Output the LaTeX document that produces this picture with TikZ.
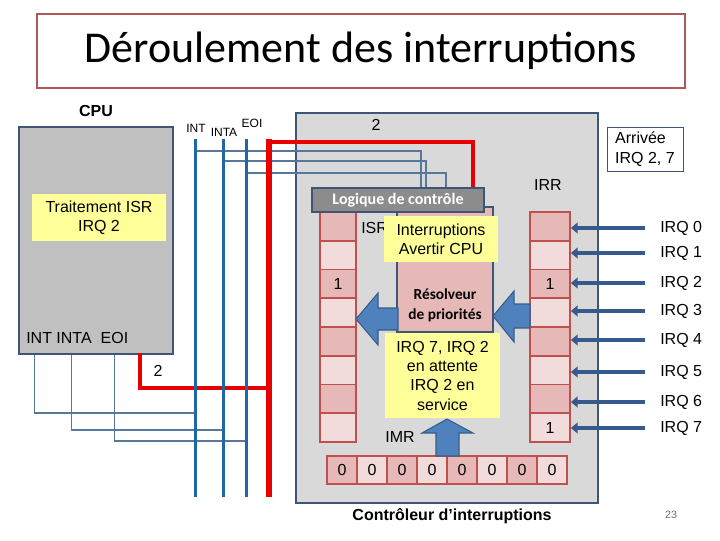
\documentclass[tikz,border=0pt]{standalone}
\usepackage{fontspec}
\setmainfont{Liberation Sans}
\newfontfamily\calibri{Carlito}
\usetikzlibrary{arrows.meta}
\definecolor{framered}{RGB}{176,88,88}
\definecolor{boxblue}{RGB}{63,85,119}
\definecolor{cpugray}{RGB}{192,192,192}
\definecolor{ctrlgray}{RGB}{217,217,217}
\definecolor{logicgray}{RGB}{140,140,140}
\definecolor{cellred}{RGB}{192,80,77}
\definecolor{celldark}{RGB}{230,185,184}
\definecolor{celllight}{RGB}{242,220,219}
\definecolor{noteyellow}{RGB}{255,255,153}
\definecolor{busblue}{RGB}{30,105,165}
\definecolor{wireblue}{RGB}{85,120,155}
\definecolor{wirered}{RGB}{232,0,0}
\definecolor{bigarrow}{RGB}{79,129,189}
\definecolor{bigarrowedge}{RGB}{56,93,138}
\definecolor{irqblue}{RGB}{55,90,140}
\definecolor{pagegray}{RGB}{110,110,110}
\begin{document}
\begin{tikzpicture}[x=0.75pt,y=-0.75pt,
  txt/.style={font=\fontsize{12}{14.5}\selectfont, inner sep=0pt},
  smalltxt/.style={font=\fontsize{9}{11}\selectfont, inner sep=0pt},
  unit/.style={draw=boxblue, line width=1.9pt, inner sep=0pt},
  note/.style={fill=noteyellow, inner sep=0pt, align=center, font=\fontsize{12}{14.5}\selectfont},
  cell/.style={draw=cellred, line width=1.3pt, inner sep=0pt, font=\fontsize{12}{14.5}\selectfont},
  bus/.style={draw=busblue, line width=2.25pt},
  wire/.style={draw=wireblue, line width=0.9pt},
  redbus/.style={draw=wirered, line width=4.5pt},
  redwire/.style={draw=wirered, line width=3pt, line join=miter},
  irqarr/.style={draw=irqblue, line width=3.6pt, -{Triangle[length=5pt,width=8pt]}},
  blockarrow/.style={fill=bigarrow, draw=bigarrowedge, line width=0.8pt, line join=miter}
]
\useasboundingbox (0,0) rectangle (720,540);

% title
\node[draw=framered, line width=2pt, minimum width=486pt, minimum height=55.5pt, inner sep=0pt,
      font=\calibri\fontsize{33}{38}\selectfont] (title) at (361,51) {Déroulement des interruptions};

% CPU
\node[txt, font=\bfseries\fontsize{12}{14.5}\selectfont] (cpulab) at (96,111) {CPU};
\node[unit, fill=cpugray, minimum width=115.5pt, minimum height=170.25pt] (cpu) at (96,240.5) {};
\node[note, minimum width=100.5pt, minimum height=35.25pt] (isrnote) at (99,217.5) {Traitement ISR\\IRQ 2};
\node[txt, anchor=west] (cpupins) at (26,338) {INT INTA\ \ EOI};

% controller
\node[unit, fill=ctrlgray, minimum width=226.5pt, minimum height=292.5pt] (ctrl) at (447,308) {};

% bus labels
\node[smalltxt] (intlab) at (196,128) {INT};
\node[smalltxt] (intalab) at (224,132) {INTA};
\node[smalltxt] (eoilab) at (252,123) {EOI};

% bus coordinates
\coordinate (intT) at (195,139);   \coordinate (intB) at (195,497);
\coordinate (intaT) at (223,139);  \coordinate (intaB) at (223,497);
\coordinate (eoiT) at (246,139);   \coordinate (eoiB) at (246,497);
\coordinate (redT) at (269,139);   \coordinate (redB) at (269,497);
\coordinate (intTap) at (195,151); \coordinate (intaTap) at (223,161); \coordinate (eoiTap) at (246,173);
\coordinate (redTap) at (269,142);
\coordinate (intL) at (195,413);   \coordinate (intaL) at (223,430); \coordinate (eoiL) at (246,441);
\coordinate (redL) at (269,388);

% logic box position (drawn later on top)
\path (398,200) node[minimum width=129pt, minimum height=18pt, inner sep=0pt] (logicpos) {};

% lower wires from CPU
\draw[wire] ([xshift=12.75pt]cpu.south west) |- (intL);
\draw[wire] ([xshift=40.5pt]cpu.south west) |- (intaL);
\draw[wire] ([xshift=72.75pt]cpu.south west) |- (eoiL);
\draw[redwire] ([xshift=91.5pt,yshift=1.5pt]cpu.south west) |- (redL);
\node[txt] (two1) at (158,371) {2};

% upper wires to logic
\draw[wire] (intTap) -| ([xshift=17.25pt]logicpos.north);
\draw[wire] (intaTap) -| ([xshift=21pt]logicpos.north);
\draw[wire] (eoiTap) -| ([xshift=36pt]logicpos.north);
\draw[redwire] (redTap) -| ([xshift=56.25pt]logicpos.north);
\node[txt] (two2) at (376,125) {2};

% buses
\draw[bus] (intT) -- (intB);
\draw[bus] (intaT) -- (intaB);
\draw[bus] (eoiT) -- (eoiB);
\draw[redbus] (redT) -- (redB);

% labels in controller
\node[txt] (irrlab) at (548,185) {IRR};
\node[txt, anchor=west] (isrlab) at (361,228) {ISR};
\node[txt] (imrlab) at (400,437) {IMR};

% arrival box
\node[draw=boxblue, fill=white, line width=0.75pt, minimum width=57pt, minimum height=33pt,
      align=left, font=\fontsize{12}{14.5}\selectfont, inner sep=2pt] (arrivee) at (645,149) {Arrivée\\IRQ 2, 7};

% resolver
\node[unit, fill=celldark, minimum width=72pt, minimum height=93.75pt] (resolver) at (445,269.5) {};
\node[font=\calibri\bfseries\fontsize{11.5}{15}\selectfont, align=center, inner sep=0pt] (reslab) at (445,305) {Résolveur\\de priorités};

% ISR column
\foreach \i/\c/\t in {0/celldark/,1/celllight/,2/celldark/1,3/celllight/,4/celldark/,5/celllight/,6/celldark/,7/celllight/}
  \node[cell, fill=\c, minimum width=27pt, minimum height=21.5625pt] (isr\i) at (338,{226.375+28.75*\i}) {\t};
% IRR column
\foreach \i/\c/\t in {0/celldark/,1/celllight/,2/celldark/1,3/celllight/,4/celldark/,5/celllight/,6/celldark/,7/celllight/1}
  \node[cell, fill=\c, minimum width=30pt, minimum height=21.5625pt] (irr\i) at (550,{226.375+28.75*\i}) {\t};
% IMR row
\foreach \i/\c in {0/celldark,1/celllight,2/celldark,3/celllight,4/celldark,5/celllight,6/celldark,7/celllight}
  \node[cell, fill=\c, minimum width=22.5pt, minimum height=21pt] (imr\i) at ({342+30*\i},470) {0};

% logic box
\node[unit, fill=logicgray, minimum width=129pt, minimum height=18pt, text=white,
      font=\calibri\bfseries\fontsize{12}{13}\selectfont] (logic) at (398,200) {Logique de contrôle};

% notes
\node[note, minimum width=85.5pt, minimum height=34.5pt] (avertir) at (441,239) {Interruptions\\Avertir CPU};
\node[note, minimum width=86.25pt, minimum height=63.75pt] (attente) at (442.5,375.5) {IRQ 7, IRQ 2\\en attente\\IRQ 2 en\\service};

% block arrows
\draw[blockarrow] (356,319) -- (378,293) -- (378,308) -- (398,308) -- (398,330) -- (378,330) -- (378,345) -- cycle;
\draw[blockarrow] (493,316) -- (514,291) -- (514,304) -- (530,304) -- (530,328) -- (514,328) -- (514,342) -- cycle;
\draw[blockarrow] (447,419) -- (473,433) -- (459,433) -- (459,456) -- (436,456) -- (436,433) -- (422,433) -- cycle;

% IRQ inputs
\foreach \i/\y in {0/228,1/253,2/283,3/311,4/340,5/372,6/402,7/428} {
  \coordinate (s\i) at (645,\y);
  \node[txt, anchor=west] (irqlab\i) at (660,\y) {IRQ \i};
  \draw[irqarr] (s\i) -- (s\i -| irr\i.east);
}

% captions
\node[txt, font=\bfseries\fontsize{12}{14.5}\selectfont] (ctrllab) at (452,516) {Contrôleur d’interruptions};
\node[font=\fontsize{8}{10}\selectfont, text=pagegray, inner sep=0pt] (page) at (671,515) {23};
\end{tikzpicture}
\end{document}
